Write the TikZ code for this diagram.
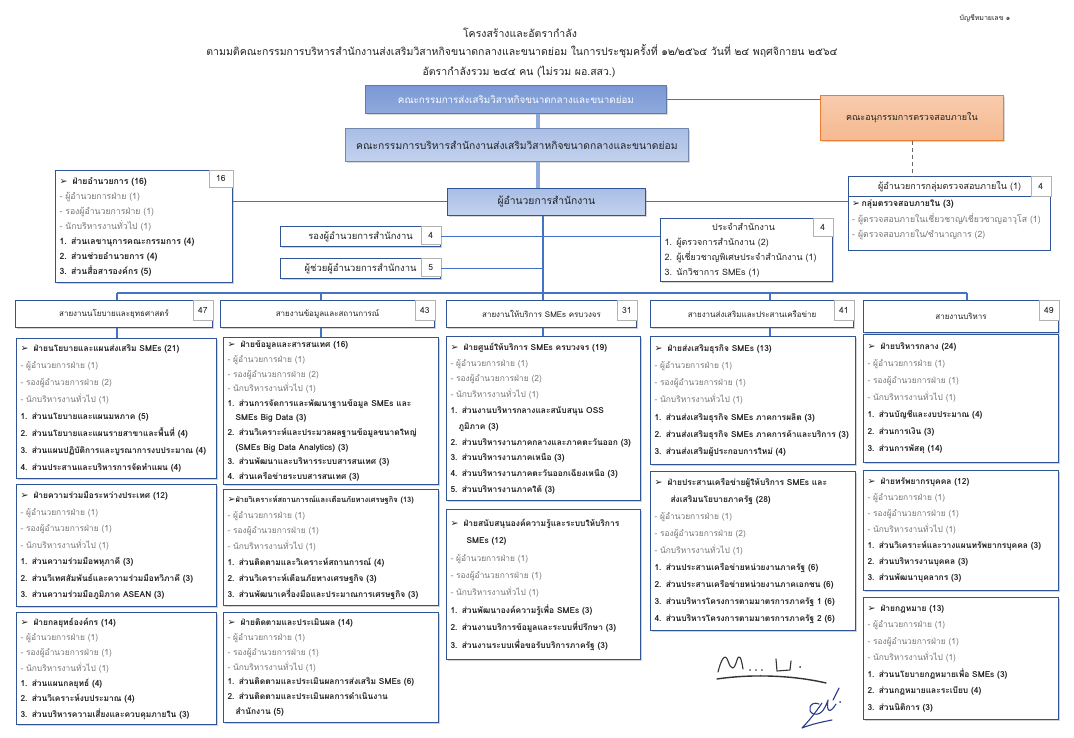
\documentclass[tikz,border=0pt]{standalone}
\usepackage{fontspec}
\setmainfont[Script=Thai]{Loma}
\newfontfamily\dv{DejaVu Sans}
\usetikzlibrary{shadows}
\definecolor{bordblue}{HTML}{2F5597}
\definecolor{linkblue}{HTML}{4472C4}
\definecolor{thickblue}{HTML}{8FAADC}
\definecolor{aTop}{HTML}{7A98D6}
\definecolor{aBot}{HTML}{8FAADC}
\definecolor{bTop}{HTML}{A9BEE6}
\definecolor{bBot}{HTML}{C3D2EE}
\definecolor{oTop}{HTML}{F4B183}
\definecolor{oBot}{HTML}{F8CBAD}
\definecolor{oBord}{HTML}{ED7D31}
\definecolor{tgray}{HTML}{777777}
\definecolor{tdark}{HTML}{222222}
\definecolor{sigblue}{HTML}{2B3C8C}
\newcommand\bodyfs[1]{\fontsize{8.4}{#1}\selectfont}
\newcommand\arr{{\dv\fontsize{9.5}{9.5}\selectfont\char"27A2}}
\newcommand\hd[1]{\arr\hspace{5pt}\textbf{#1}}
\newcommand\gl[1]{\textcolor{tgray}{#1}}
\newcommand\itm[1]{\textbf{#1}}
\begin{document}
\begin{tikzpicture}[x=1pt,y=-1pt,
  conn/.style={draw=linkblue, line width=1.1pt},
  thickconn/.style={draw=thickblue, line width=3.5pt},
  dashconn/.style={draw=black!60, line width=0.8pt, dash pattern=on 4pt off 3pt},
  dept/.style={draw=bordblue, line width=1.1pt, fill=white, anchor=north west, align=left, inner xsep=4pt, inner ysep=1pt, text=tdark,
    drop shadow={shadow xshift=1.3pt,shadow yshift=-1.3pt,fill=black!35}},
  colhead/.style={draw=bordblue, line width=1.1pt, fill=white, anchor=north west, minimum height=27, inner sep=0pt, text=tdark, font=\fontsize{8}{10}\selectfont,
    drop shadow={shadow xshift=1.3pt,shadow yshift=-1.3pt,fill=black!35}},
  numbox/.style={draw=black!30, line width=0.6pt, fill=white, anchor=north east, minimum width=19, minimum height=18, inner sep=0pt, text=tdark, font=\fontsize{8.5}{10}\selectfont},
  plainbox/.style={draw=bordblue, line width=1.1pt, fill=white, anchor=north west, inner sep=0pt, text=tdark},
  sig/.style={line width=1.1pt, line cap=round, line join=round}
]
\useasboundingbox[fill=white] (0,0) rectangle (1074,738);

% header texts
\node[font=\fontsize{7}{8}\selectfont, text=tdark] (acct) at (985,18) {บัญชีหมายเลข ๑};
\node[font=\fontsize{10.5}{12}\selectfont, text=tdark] (t1) at (520,33) {โครงสร้างและอัตรากำลัง};
\node[font=\fontsize{10.5}{12}\selectfont, text=tdark] (t2) at (522,51) {ตามมติคณะกรรมการบริหารสำนักงานส่งเสริมวิสาหกิจขนาดกลางและขนาดย่อม ในการประชุมครั้งที่ ๑๒/๒๕๖๔ วันที่ ๒๔ พฤศจิกายน ๒๕๖๔};
\node[font=\fontsize{10.5}{12}\selectfont, text=tdark] (t3) at (519,72) {อัตรากำลังรวม ๒๔๔ คน (ไม่รวม ผอ.สสว.)};

% top boxes
\node[draw=aTop!80!black, line width=0.8pt, top color=aTop, bottom color=aBot, minimum width=301, minimum height=28, inner sep=0pt, text=white, font=\fontsize{9.8}{11}\selectfont, anchor=north west,
  drop shadow={shadow xshift=1.3pt,shadow yshift=-1.3pt,fill=black!30}] (A) at (365,85) {คณะกรรมการส่งเสริมวิสาหกิจขนาดกลางและขนาดย่อม};
\node[draw=thickblue!80!black, line width=0.8pt, top color=bTop, bottom color=bBot, minimum width=343, minimum height=33, inner sep=0pt, text=tdark, font=\fontsize{10.3}{11}\selectfont, anchor=north west,
  drop shadow={shadow xshift=1.3pt,shadow yshift=-1.3pt,fill=black!30}] (B) at (345,128) {คณะกรรมการบริหารสำนักงานส่งเสริมวิสาหกิจขนาดกลางและขนาดย่อม};
\node[draw=oBord, line width=0.8pt, top color=oBot, bottom color=oTop!70!oBot, minimum width=183, minimum height=45, inner sep=0pt, text=tdark, font=\fontsize{9}{11}\selectfont, anchor=north west,
  drop shadow={shadow xshift=1.3pt,shadow yshift=-1.3pt,fill=black!30}] (O) at (820,95) {คณะอนุกรรมการตรวจสอบภายใน};
\node[draw=bordblue, line width=0.9pt, top color=bTop, bottom color=bBot, minimum width=198, minimum height=27, inner sep=0pt, text=tdark, font=\fontsize{10.3}{11}\selectfont, anchor=north west,
  drop shadow={shadow xshift=1.3pt,shadow yshift=-1.3pt,fill=black!30}] (dir) at (447,188) {ผู้อำนวยการสำนักงาน};

\coordinate (tx) at (538,0);
\coordinate (tx2) at (543,0);

% left admin box
\node[dept, text width=169, minimum height=112, font=\fontsize{8.7}{15}\selectfont] (adm) at (55,170) {%
\hd{ฝ่ายอำนวยการ (16)}\\
\gl{- ผู้อำนวยการฝ่าย (1)}\\
\gl{- รองผู้อำนวยการฝ่าย (1)}\\
\gl{- นักบริหารงานทั่วไป (1)}\\
\itm{1. ส่วนเลขานุการคณะกรรมการ (4)}\\
\itm{2. ส่วนช่วยอำนวยการ (4)}\\
\itm{3. ส่วนสื่อสารองค์กร (5)}};
\node[numbox, minimum width=24, minimum height=17] (admn) at (adm.north east) {16};

% audit box
\node[plainbox, minimum width=202, minimum height=74] (aud) at (848,176) {};
\node[plainbox, minimum width=202, minimum height=20, font=\fontsize{9}{10}\selectfont] (audh) at (848,176) {ผู้อำนวยการกลุ่มตรวจสอบภายใน (1)\hspace{18pt}};
\node[numbox, minimum width=20, minimum height=20] (audn) at (audh.north east) {4};
\node[anchor=north west, align=left, inner sep=0pt, text=tdark, font=\fontsize{8.7}{15.5}\selectfont] (audb) at (852,200) {%
\arr\,\textbf{กลุ่มตรวจสอบภายใน (3)}\\
\gl{- ผู้ตรวจสอบภายในเชี่ยวชาญ/เชี่ยวชาญอาวุโส (1)}\\
\gl{- ผู้ตรวจสอบภายใน/ชำนาญการ (2)}};

% deputy boxes
\node[plainbox, minimum width=160, minimum height=20, font=\fontsize{9.4}{10}\selectfont,
  drop shadow={shadow xshift=1.3pt,shadow yshift=-1.3pt,fill=black!35}] (rong) at (280,226) {รองผู้อำนวยการสำนักงาน\hspace{22pt}};
\node[numbox, minimum width=20, minimum height=18] (rongn) at (rong.north east) {4};
\node[plainbox, minimum width=160, minimum height=20, font=\fontsize{9.4}{10}\selectfont,
  drop shadow={shadow xshift=1.3pt,shadow yshift=-1.3pt,fill=black!35}] (chuay) at (280,258) {ผู้ช่วยผู้อำนวยการสำนักงาน\hspace{22pt}};
\node[numbox, minimum width=20, minimum height=18] (chuayn) at (chuay.north east) {5};

% office staff box
\node[dept, text width=164, minimum height=63, font=\fontsize{8.9}{15}\selectfont] (pj) at (660,218) {%
\makebox[\linewidth][c]{ประจำสำนักงาน\hspace{6pt}}\\
1. ผู้ตรวจการสำนักงาน (2)\\
2. ผู้เชี่ยวชาญพิเศษประจำสำนักงาน (1)\\
3. นักวิชาการ SMEs (1)};
\node[numbox, minimum width=20, minimum height=18] (pjn) at (pj.north east) {4};

% column headers
\node[colhead, minimum width=197] (h1) at (15,300) {สายงานนโยบายและยุทธศาสตร์\hspace{14pt}};
\node[numbox, minimum width=20, minimum height=20] (h1n) at (h1.north east) {47};
\node[colhead, minimum width=214] (h2) at (220,300) {สายงานข้อมูลและสถานการณ์\hspace{14pt}};
\node[numbox, minimum width=20, minimum height=20] (h2n) at (h2.north east) {43};
\node[colhead, minimum width=190] (h3) at (446,300) {สายงานให้บริการ SMEs ครบวงจร\hspace{14pt}};
\node[numbox, minimum width=20, minimum height=20] (h3n) at (h3.north east) {31};
\node[colhead, minimum width=203] (h4) at (650,300) {สายงานส่งเสริมและประสานเครือข่าย\hspace{14pt}};
\node[numbox, minimum width=20, minimum height=20] (h4n) at (h4.north east) {41};
\node[colhead, minimum width=195, minimum height=32] (h5) at (863,300) {สายงานบริหาร\hspace{14pt}};
\node[numbox, minimum width=20, minimum height=20] (h5n) at (h5.north east) {49};

% column 1
\node[dept, text width=192, minimum height=140, font=\bodyfs{17}] (c1a) at (16,338) {%
\hd{ฝ่ายนโยบายและแผนส่งเสริม SMEs (21)}\\
\gl{- ผู้อำนวยการฝ่าย (1)}\\
\gl{- รองผู้อำนวยการฝ่าย (2)}\\
\gl{- นักบริหารงานทั่วไป (1)}\\
\itm{1. ส่วนนโยบายและแผนมหภาค (5)}\\
\itm{2. ส่วนนโยบายและแผนรายสาขาและพื้นที่ (4)}\\
\itm{3. ส่วนแผนปฏิบัติการและบูรณาการงบประมาณ (4)}\\
\itm{4. ส่วนประสานและบริหารการจัดทำแผน (4)}};
\node[dept, text width=192, minimum height=122, font=\bodyfs{16.5}] (c1b) at (16,484) {%
\hd{ฝ่ายความร่วมมือระหว่างประเทศ (12)}\\
\gl{- ผู้อำนวยการฝ่าย (1)}\\
\gl{- รองผู้อำนวยการฝ่าย (1)}\\
\gl{- นักบริหารงานทั่วไป (1)}\\
\itm{1. ส่วนความร่วมมือพหุภาคี (3)}\\
\itm{2. ส่วนวิเทศสัมพันธ์และความร่วมมือทวิภาคี (3)}\\
\itm{3. ส่วนความร่วมมือภูมิภาค ASEAN (3)}};
\node[dept, text width=192, minimum height=112, font=\bodyfs{15.3}] (c1c) at (16,612) {%
\hd{ฝ่ายกลยุทธ์องค์กร (14)}\\
\gl{- ผู้อำนวยการฝ่าย (1)}\\
\gl{- รองผู้อำนวยการฝ่าย (1)}\\
\gl{- นักบริหารงานทั่วไป (1)}\\
\itm{1. ส่วนแผนกลยุทธ์ (4)}\\
\itm{2. ส่วนวิเคราะห์งบประมาณ (4)}\\
\itm{3. ส่วนบริหารความเสี่ยงและควบคุมภายใน (3)}};

% column 2
\node[dept, text width=207, minimum height=147, font=\bodyfs{14.6}] (c2a) at (223,337) {%
\hd{ฝ่ายข้อมูลและสารสนเทศ (16)}\\
\gl{- ผู้อำนวยการฝ่าย (1)}\\
\gl{- รองผู้อำนวยการฝ่าย (2)}\\
\gl{- นักบริหารงานทั่วไป (1)}\\
\itm{1. ส่วนการจัดการและพัฒนาฐานข้อมูล SMEs และ}\\
\itm{\hspace*{8pt}SMEs Big Data (3)}\\
\itm{2. ส่วนวิเคราะห์และประมวลผลฐานข้อมูลขนาดใหญ่}\\
\itm{\hspace*{8pt}(SMEs Big Data Analytics) (3)}\\
\itm{3. ส่วนพัฒนาและบริหารระบบสารสนเทศ (3)}\\
\itm{4. ส่วนเครือข่ายระบบสารสนเทศ (3)}};
\node[dept, text width=207, minimum height=116, font=\bodyfs{15.8}] (c2b) at (223,489) {%
{\fontsize{7.5}{10}\selectfont\arr\textbf{ฝ่ายวิเคราะห์สถานการณ์และเตือนภัยทางเศรษฐกิจ (13)}}\\
\gl{- ผู้อำนวยการฝ่าย (1)}\\
\gl{- รองผู้อำนวยการฝ่าย (1)}\\
\gl{- นักบริหารงานทั่วไป (1)}\\
\itm{1. ส่วนติดตามและวิเคราะห์สถานการณ์ (4)}\\
\itm{2. ส่วนวิเคราะห์เตือนภัยทางเศรษฐกิจ (3)}\\
\itm{3. ส่วนพัฒนาเครื่องมือและประมาณการเศรษฐกิจ (3)}};
\node[dept, text width=207, minimum height=110, font=\bodyfs{14.8}] (c2c) at (223,612) {%
\hd{ฝ่ายติดตามและประเมินผล (14)}\\
\gl{- ผู้อำนวยการฝ่าย (1)}\\
\gl{- รองผู้อำนวยการฝ่าย (1)}\\
\gl{- นักบริหารงานทั่วไป (1)}\\
\itm{1. ส่วนติดตามและประเมินผลการส่งเสริม SMEs (6)}\\
\itm{2. ส่วนติดตามและประเมินผลการดำเนินงาน}\\
\itm{\hspace*{8pt}สำนักงาน (5)}};

% column 3
\node[dept, text width=186, minimum height=164, font=\bodyfs{15.8}] (c3a) at (446,336) {%
\hd{ฝ่ายศูนย์ให้บริการ SMEs ครบวงจร (19)}\\
\gl{- ผู้อำนวยการฝ่าย (1)}\\
\gl{- รองผู้อำนวยการฝ่าย (2)}\\
\gl{- นักบริหารงานทั่วไป (1)}\\
\itm{1. ส่วนงานบริหารกลางและสนับสนุน OSS}\\
\itm{\hspace*{8pt}ภูมิภาค (3)}\\
\itm{2. ส่วนบริหารงานภาคกลางและภาคตะวันออก (3)}\\
\itm{3. ส่วนบริหารงานภาคเหนือ (3)}\\
\itm{4. ส่วนบริหารงานภาคตะวันออกเฉียงเหนือ (3)}\\
\itm{5. ส่วนบริหารงานภาคใต้ (3)}};
\node[dept, text width=186, minimum height=150, font=\bodyfs{17.4}] (c3b) at (446,509) {%
\hd{ฝ่ายสนับสนุนองค์ความรู้และระบบให้บริการ}\\
\textbf{\hspace*{16pt}SMEs (12)}\\
\gl{- ผู้อำนวยการฝ่าย (1)}\\
\gl{- รองผู้อำนวยการฝ่าย (1)}\\
\gl{- นักบริหารงานทั่วไป (1)}\\
\itm{1. ส่วนพัฒนาองค์ความรู้เพื่อ SMEs (3)}\\
\itm{2. ส่วนงานบริการข้อมูลและระบบที่ปรึกษา (3)}\\
\itm{3. ส่วนงานระบบเพื่อขอรับบริการภาครัฐ (3)}};

% column 4
\node[dept, text width=197, minimum height=128, font=\bodyfs{17.3}] (c4a) at (650,336) {%
\hd{ฝ่ายส่งเสริมธุรกิจ SMEs (13)}\\
\gl{- ผู้อำนวยการฝ่าย (1)}\\
\gl{- รองผู้อำนวยการฝ่าย (1)}\\
\gl{- นักบริหารงานทั่วไป (1)}\\
\itm{1. ส่วนส่งเสริมธุรกิจ SMEs ภาคการผลิต (3)}\\
\itm{2. ส่วนส่งเสริมธุรกิจ SMEs ภาคการค้าและบริการ (3)}\\
\itm{3. ส่วนส่งเสริมผู้ประกอบการใหม่ (4)}};
\node[dept, text width=197, minimum height=159, font=\bodyfs{17.1}] (c4b) at (650,471) {%
\hd{ฝ่ายประสานเครือข่ายผู้ให้บริการ SMEs และ}\\
\textbf{\hspace*{16pt}ส่งเสริมนโยบายภาครัฐ (28)}\\
\gl{- ผู้อำนวยการฝ่าย (1)}\\
\gl{- รองผู้อำนวยการฝ่าย (2)}\\
\gl{- นักบริหารงานทั่วไป (1)}\\
\itm{1. ส่วนประสานเครือข่ายหน่วยงานภาครัฐ (6)}\\
\itm{2. ส่วนประสานเครือข่ายหน่วยงานภาคเอกชน (6)}\\
\itm{3. ส่วนบริหารโครงการตามมาตรการภาครัฐ 1 (6)}\\
\itm{4. ส่วนบริหารโครงการตามมาตรการภาครัฐ 2 (6)}};

% column 5
\node[dept, text width=187, minimum height=128, font=\bodyfs{17}] (c5a) at (863,334) {%
\hd{ฝ่ายบริหารกลาง (24)}\\
\gl{- ผู้อำนวยการฝ่าย (1)}\\
\gl{- รองผู้อำนวยการฝ่าย (1)}\\
\gl{- นักบริหารงานทั่วไป (1)}\\
\itm{1. ส่วนบัญชีและงบประมาณ (4)}\\
\itm{2. ส่วนการเงิน (3)}\\
\itm{3. ส่วนการพัสดุ (14)}};
\node[dept, text width=187, minimum height=120, font=\bodyfs{16}] (c5b) at (863,470) {%
\hd{ฝ่ายทรัพยากรบุคคล (12)}\\
\gl{- ผู้อำนวยการฝ่าย (1)}\\
\gl{- รองผู้อำนวยการฝ่าย (1)}\\
\gl{- นักบริหารงานทั่วไป (1)}\\
\itm{1. ส่วนวิเคราะห์และวางแผนทรัพยากรบุคคล (3)}\\
\itm{2. ส่วนบริหารงานบุคคล (3)}\\
\itm{3. ส่วนพัฒนาบุคลากร (3)}};
\node[dept, text width=187, minimum height=122, font=\bodyfs{16.5}] (c5c) at (863,597) {%
\hd{ฝ่ายกฎหมาย (13)}\\
\gl{- ผู้อำนวยการฝ่าย (1)}\\
\gl{- รองผู้อำนวยการฝ่าย (1)}\\
\gl{- นักบริหารงานทั่วไป (1)}\\
\itm{1. ส่วนนโยบายกฎหมายเพื่อ SMEs (3)}\\
\itm{2. ส่วนกฎหมายและระเบียบ (4)}\\
\itm{3. ส่วนนิติการ (3)}};

% connectors
\draw[thickconn] (A.south -| tx) -- (B.north -| tx);
\draw[thickconn] (B.south -| tx) -- (dir.north -| tx);
\draw[conn] (A.east) -- (A.east -| O.west);
\draw[dashconn] (O.south) -- (O.south |- aud.north);
\draw[conn] (dir.west -| adm.east) -- (dir.west);
\draw[conn] (dir.east) -- (dir.east -| aud.west);
\draw[conn] (dir.south -| tx2) -- (h3.north -| tx2);
\draw[conn] (rong.east) -- (rong.east -| pj.west);
\draw[conn] (chuay.east) -- (chuay.east -| tx2);
\coordinate (d1) at (117,293);
\coordinate (d2) at (321,293);
\coordinate (d4) at (770,293);
\coordinate (d5) at (967,293);
\draw[conn] (d1) -- (d5);
\draw[conn] (d1) -- (d1 |- h1.north);
\draw[conn] (d2) -- (d2 |- h2.north);
\draw[conn] (d4) -- (d4 |- h4.north);
\draw[conn] (d5) -- (d5 |- h5.north);
\draw[conn] (h1.south -| d1) -- (c1a.north -| d1);
\draw[conn] (h2.south -| d2) -- (c2a.north -| d2);
\draw[conn] (h3.south -| tx2) -- (c3a.north -| tx2);
\draw[conn] (h4.south -| d4) -- (c4a.north -| d4);

% signatures
\draw[sig, draw=black!80] (718,672) .. controls (721,660) and (725,652) .. (728,661) .. controls (731,670) and (734,671) .. (737,660) .. controls (739,654) and (741,656) .. (743,669);
\fill[black!80] (750,670) circle (0.8) (756,670) circle (0.8) (762,670) circle (0.8) (800,667) circle (1);
\draw[sig, draw=black!80] (776,659) -- (777,671) -- (790,670) -- (791,661);
\draw[sig, draw=black!80, line width=1.4pt] (717,679) .. controls (750,674) and (792,675) .. (826,683);
\draw[sig, draw=sigblue] (819,704) .. controls (810,700) and (806,712) .. (814,714) .. controls (822,716) and (826,706) .. (828,700) .. controls (826,712) and (830,714) .. (836,704);
\draw[sig, draw=sigblue] (822,703) .. controls (816,712) and (808,722) .. (802,728) .. controls (812,724) and (822,722) .. (832,720);
\draw[sig, draw=sigblue] (833,700) -- (839,688);
\fill[sigblue] (840,702) circle (1);
\end{tikzpicture}
\end{document}
